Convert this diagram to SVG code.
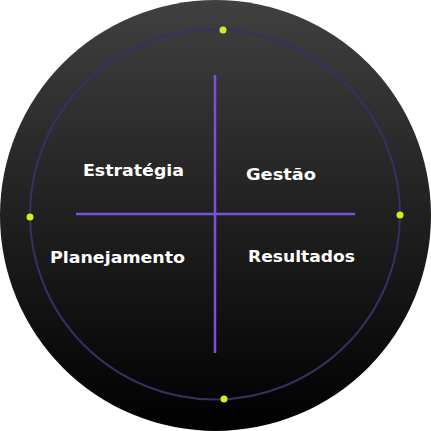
<svg xmlns="http://www.w3.org/2000/svg" width="431" height="431" viewBox="0 0 431 431">
<defs>
<linearGradient id="bg" x1="0" y1="0" x2="0" y2="1">
<stop offset="0" stop-color="#404040"/>
<stop offset="1" stop-color="#000000"/>
</linearGradient>
<style>
.lbl{font-family:"DejaVu Sans",sans-serif;font-weight:700;font-size:16px;fill:#ffffff}
.dot{fill:#c6f51a}
.axis{stroke:#7a50e0;stroke-width:2.5;fill:none}
</style>
</defs>
<circle cx="215.5" cy="215.5" r="215.5" fill="url(#bg)"/>
<circle cx="215" cy="214.5" r="185" fill="none" stroke="#3b2e63" stroke-width="2"/>
<g id="connectors">
<line class="axis" x1="215" y1="75" x2="215" y2="353"/>
<line class="axis" x1="76" y1="214" x2="355" y2="214"/>
</g>
<g id="dots">
<circle class="dot" cx="223" cy="30" r="3.5"/>
<circle class="dot" cx="30" cy="217" r="3.5"/>
<circle class="dot" cx="400" cy="215" r="3.5"/>
<circle class="dot" cx="224" cy="399" r="3.5"/>
</g>
<g id="estrategia"><text class="lbl" x="83" y="176" textLength="101" lengthAdjust="spacingAndGlyphs">Estratégia</text></g>
<g id="gestao"><text class="lbl" x="246" y="180" textLength="70" lengthAdjust="spacingAndGlyphs">Gestão</text></g>
<g id="planejamento"><text class="lbl" x="50" y="263" textLength="135" lengthAdjust="spacingAndGlyphs">Planejamento</text></g>
<g id="resultados"><text class="lbl" x="248" y="262" textLength="107" lengthAdjust="spacingAndGlyphs">Resultados</text></g>
</svg>
